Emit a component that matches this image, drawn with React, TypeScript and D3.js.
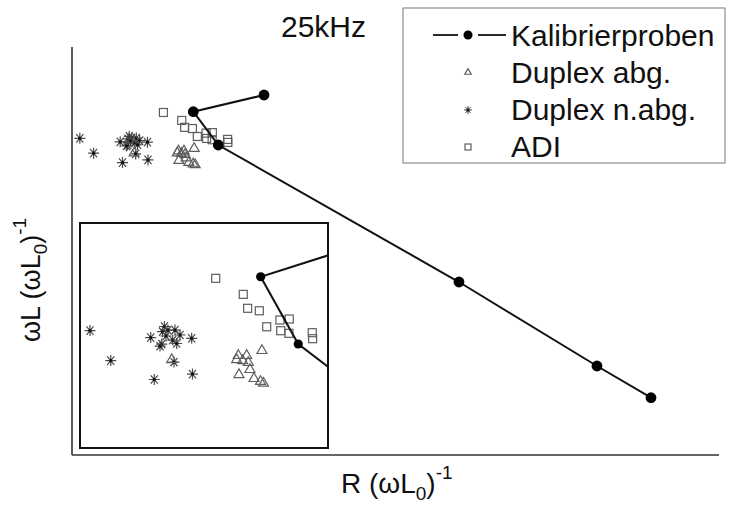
import React from "react";
import * as d3 from "d3";

// Calibration samples (line + filled dots), in order of the connecting line
const kalibX = [29.68, 18.75, 22.61, 59.81, 81.14, 89.49];
const kalibY = [88.24, 84.14, 75.98, 42.4, 21.81, 14.04];

// Duplex abg. (triangles)
const dupAbgX = [18.88, 16.45, 17.31, 16.28, 16.9, 17.48, 17.65, 16.52, 18.06, 18.73, 19.04, 9.6];
const dupAbgY = [75.25, 74.64, 74.64, 74.15, 74.03, 73.79, 72.94, 72.33, 71.85, 71.49, 71.28, 74.15];

// Duplex n.abg. (asterisks)
const dupNX = [1.21, 3.34, 7.45, 8.86, 8.66, 9.22, 9.94, 10.46, 11.66, 8.58, 9.71, 10.12, 9.84, 11.74, 7.81, 9.02, 8.4];
const dupNY = [77.61, 73.97, 76.76, 78.1, 77.47, 77.67, 77.67, 77.07, 76.67, 75.97, 76.46, 76.04, 73.79, 72.33, 71.67, 76.95, 75.73];

// ADI (squares)
const adiX = [14.13, 16.96, 17.41, 18.61, 19.37, 20.73, 21.69, 20.81, 21.66, 24.05, 24.09];
const adiY = [83.95, 82.0, 80.31, 80.01, 78.07, 78.89, 79.01, 77.59, 77.27, 77.35, 76.62];

const legendLabels = ["Kalibrierproben", "Duplex abg.", "Duplex n.abg.", "ADI"];
const titleText = "25kHz";

const FONT = "'Liberation Sans', Arial, Helvetica, sans-serif";
const GRAY = "#5e5e5e";

type Pt = [number, number];
const zip = (xs: number[], ys: number[]): Pt[] => xs.map((x, i) => [x, ys[i]]);

function Triangle({ x, y, s = 10 }: { x: number; y: number; s?: number }) {
  const h = s * 0.87;
  const p = `M${x},${y - h * 0.6}L${x + s / 2},${y + h * 0.4}L${x - s / 2},${y + h * 0.4}Z`;
  return <path d={p} fill="none" stroke={GRAY} strokeWidth={1.2} />;
}
function Square({ x, y, s = 8 }: { x: number; y: number; s?: number }) {
  return <rect x={x - s / 2} y={y - s / 2} width={s} height={s} fill="none" stroke={GRAY} strokeWidth={1.2} />;
}
function Star({ x, y, r = 5.5, w = 1.2 }: { x: number; y: number; r?: number; w?: number }) {
  const a = (50 * Math.PI) / 180;
  const dx = r * Math.cos(a);
  const dy = r * Math.sin(a);
  const d = `M${x},${y - r}L${x},${y + r}M${x - dx},${y - dy}L${x + dx},${y + dy}M${x - dx},${y + dy}L${x + dx},${y - dy}M${x - r},${y}L${x + r},${y}`;
  return (
    <g>
      <path d={d} stroke="#4a4a4a" strokeWidth={w} fill="none" />
      <circle cx={x} cy={y} r={1.6} fill="#111" />
    </g>
  );
}

function Layer({ sx, sy, dot }: { sx: d3.ScaleLinear<number, number>; sy: d3.ScaleLinear<number, number>; dot: number }) {
  const kal = zip(kalibX, kalibY);
  const line = d3.line<Pt>().x((d) => sx(d[0])).y((d) => sy(d[1]));
  return (
    <g>
      {zip(dupNX, dupNY).map((d, i) => (
        <Star key={"s" + i} x={sx(d[0])} y={sy(d[1])} />
      ))}
      {zip(dupAbgX, dupAbgY).map((d, i) => (
        <Triangle key={"t" + i} x={sx(d[0])} y={sy(d[1])} />
      ))}
      {zip(adiX, adiY).map((d, i) => (
        <Square key={"q" + i} x={sx(d[0])} y={sy(d[1])} />
      ))}
      <path d={line(kal) || ""} fill="none" stroke="#111" strokeWidth={2} />
      {kal.map((d, i) => (
        <circle key={"k" + i} cx={sx(d[0])} cy={sy(d[1])} r={dot} fill="#000" />
      ))}
    </g>
  );
}

export default function App() {
  const W = 731;
  const H = 517;
  const x = d3.scaleLinear().domain([0, 100]).range([72, 719]);
  const y = d3.scaleLinear().domain([0, 100]).range([455, 47]);

  const inset = { x0: 80, x1: 328, y0: 223, y1: 448 };
  const ix = d3.scaleLinear().domain([0.18, 25.67]).range([inset.x0, inset.x1]);
  const iy = d3.scaleLinear().domain([63.36, 90.66]).range([inset.y1, inset.y0]);

  const legRowY = (i: number) => 46 + i * 37;
  const legMX = 468;

  return (
    <svg width={W} height={H} style={{ position: "absolute", left: 0, top: 0, background: "white" }}>
      <rect x={0} y={0} width={W} height={H} fill="white" />
      <defs>
        <clipPath id="insetClip">
          <rect x={inset.x0} y={inset.y0} width={inset.x1 - inset.x0} height={inset.y1 - inset.y0} />
        </clipPath>
      </defs>

      {/* axes */}
      <line x1={x(0)} x2={x(0)} y1={y(100)} y2={y(0)} stroke="#333" strokeWidth={1.6} />
      <line x1={x(0)} x2={x(100)} y1={y(0)} y2={y(0)} stroke="#333" strokeWidth={1.6} />

      {/* main data */}
      <Layer sx={x} sy={y} dot={5.4} />

      {/* inset */}
      <rect x={inset.x0} y={inset.y0} width={inset.x1 - inset.x0} height={inset.y1 - inset.y0} fill="white" />
      <g clipPath="url(#insetClip)">
        <Layer sx={ix} sy={iy} dot={4.6} />
      </g>
      <rect x={inset.x0} y={inset.y0} width={inset.x1 - inset.x0} height={inset.y1 - inset.y0} fill="none" stroke="#111" strokeWidth={2} />

      {/* title */}
      <text x={323.5} y={36.5} textAnchor="middle" fontFamily={FONT} fontSize={30} fill="#111">
        {titleText}
      </text>

      {/* legend */}
      <rect x={403} y={8} width={322} height={155} fill="white" stroke="#777" strokeWidth={1} />
      <line x1={433} x2={458} y1={legRowY(0) - 11} y2={legRowY(0) - 11} stroke="#111" strokeWidth={1.8} />
      <line x1={478} x2={506} y1={legRowY(0) - 11} y2={legRowY(0) - 11} stroke="#111" strokeWidth={1.8} />
      <circle cx={legMX} cy={legRowY(0) - 11} r={4.5} fill="#000" />
      <Triangle x={legMX} y={legRowY(1) - 11} s={6.5} />
      <Star x={legMX} y={legRowY(2) - 10} r={4} w={1} />
      <Square x={legMX} y={legRowY(3) - 10} s={6} />
      {legendLabels.map((t, i) => (
        <text key={t} x={511} y={legRowY(i)} fontFamily={FONT} fontSize={30} fill="#111">
          {t}
        </text>
      ))}

      {/* x label */}
      <text x={341} y={493} fontFamily={FONT} fontSize={28} fill="#111">
        R (ωL
        <tspan fontSize={19} dy={7}>0</tspan>
        <tspan dy={-7}>)</tspan>
        <tspan fontSize={19} dy={-14}>-1</tspan>
      </text>

      {/* y label */}
      <text transform={`translate(40,342) rotate(-90)`} x={0} y={0} fontFamily={FONT} fontSize={27} fill="#111">
        ωL (ωL
        <tspan fontSize={19} dy={7}>0</tspan>
        <tspan dy={-7}>)</tspan>
        <tspan fontSize={19} dy={-14}>-1</tspan>
      </text>
    </svg>
  );
}
